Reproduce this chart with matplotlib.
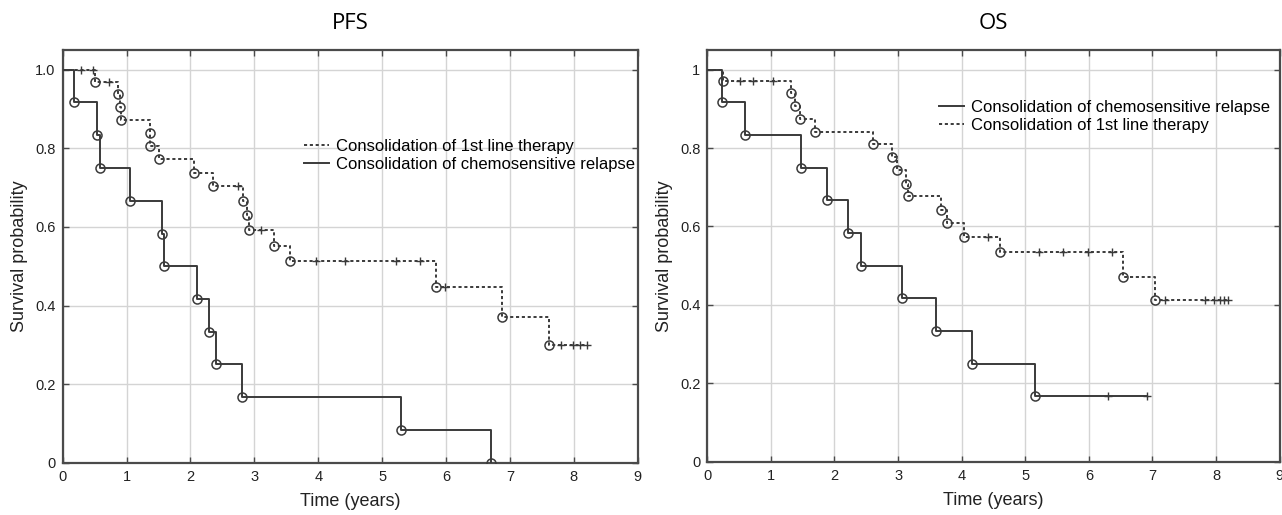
import numpy as np
import matplotlib
matplotlib.use("Agg")
import matplotlib.pyplot as plt
from matplotlib.lines import Line2D

plt.rcParams['font.family'] = ['Liberation Sans', 'DejaVu Sans']

# ---------------- data ----------------
# PFS, consolidation of 1st line therapy (dotted)
pfs_first_t = [0.50, 0.87, 0.89, 0.92, 1.36, 1.37, 1.51, 2.06, 2.36, 2.82, 2.89, 2.92, 3.30, 3.56, 5.84, 6.87, 7.61]
pfs_first_s = [0.968, 0.937, 0.905, 0.873, 0.839, 0.805, 0.772, 0.738, 0.703, 0.666, 0.630, 0.593, 0.552, 0.513, 0.448, 0.371, 0.299]
pfs_first_cens = [0.28, 0.48, 0.73, 2.75, 3.11, 3.96, 4.42, 5.22, 5.59, 5.98, 7.80, 7.98, 8.10, 8.21]
pfs_first_end = 8.21

# PFS, consolidation of chemosensitive relapse (solid)
pfs_relapse_t = [0.17, 0.54, 0.58, 1.05, 1.56, 1.59, 2.10, 2.29, 2.40, 2.80, 5.29, 6.71]
pfs_relapse_s = [0.917, 0.833, 0.750, 0.667, 0.583, 0.500, 0.417, 0.333, 0.250, 0.167, 0.083, 0.0]
pfs_relapse_cens = []
pfs_relapse_end = 6.71

# OS, consolidation of chemosensitive relapse (solid)
os_relapse_t = [0.23, 0.59, 1.47, 1.88, 2.22, 2.41, 3.06, 3.60, 4.17, 5.16]
os_relapse_s = [0.917, 0.833, 0.750, 0.667, 0.583, 0.500, 0.417, 0.333, 0.250, 0.167]
os_relapse_cens = [6.30, 6.91]
os_relapse_end = 6.91

# OS, consolidation of 1st line therapy (dotted)
os_first_t = [0.25, 1.31, 1.38, 1.45, 1.69, 2.60, 2.90, 2.99, 3.12, 3.15, 3.67, 3.77, 4.03, 4.61, 6.54, 7.04]
os_first_s = [0.970, 0.940, 0.906, 0.875, 0.842, 0.810, 0.777, 0.745, 0.709, 0.677, 0.642, 0.608, 0.572, 0.534, 0.472, 0.413]
os_first_cens = [0.51, 0.72, 1.04, 4.41, 5.21, 5.59, 5.99, 6.36, 7.20, 7.83, 7.96, 8.06, 8.13, 8.18]
os_first_end = 8.18

label_first = "Consolidation of 1st line therapy"
label_relapse = "Consolidation of chemosensitive relapse"
x_ticks = [0, 1, 2, 3, 4, 5, 6, 7, 8, 9]
pfs_yticklabels = ["0", "0.2", "0.4", "0.6", "0.8", "1.0"]
os_yticklabels = ["0", "0.2", "0.4", "0.6", "0.8", "1"]

# ---------------- style ----------------
LINE_C = "#3a3a3a"
GRID_C = "#d4d4d4"
SPINE_C = "#4a4a4a"
DOT_LS = (0, (1.6, 1.4))


def km(ax, t, s, cens, end, ls):
    tt = np.concatenate([[0.0], t, [end]])
    ss = np.concatenate([[1.0], s, [s[-1]]])
    ax.step(tt, ss, where='post', color=LINE_C, lw=1.4, ls=ls, zorder=3)
    ax.plot(t, s, ls='none', marker='o', ms=6.5, mfc='none', mec=LINE_C, mew=1.1, zorder=4)
    if len(cens):
        idx = np.searchsorted(tt, cens, side='right') - 1
        ax.plot(cens, ss[idx], ls='none', marker='+', ms=6, mec=LINE_C, mew=1.0, zorder=4)


def style_axes(ax, yticklabels):
    ax.set_xlim(0, 9)
    ax.set_ylim(0, 1.05)
    ax.set_xticks(x_ticks)
    ax.set_yticks([0, 0.2, 0.4, 0.6, 0.8, 1.0])
    ax.set_yticklabels(yticklabels)
    ax.grid(True, color=GRID_C, lw=1.0, zorder=0)
    ax.set_axisbelow(True)
    ax.tick_params(direction='in', top=True, right=True, length=4, width=1.0,
                   color=SPINE_C, labelsize=10.5, labelcolor="#222222", pad=5)
    for sp in ax.spines.values():
        sp.set_color(SPINE_C)
        sp.set_linewidth(1.6)
    ax.set_xlabel("Time (years)", fontsize=13, color="#222222", labelpad=7)
    ax.set_ylabel("Survival probability", fontsize=13, color="#222222", labelpad=5)


fig = plt.figure(figsize=(12.82, 5.15), dpi=100)
ax1 = fig.add_axes([0.0489, 0.1014, 0.4486, 0.8016])
ax2 = fig.add_axes([0.5517, 0.1035, 0.4465, 0.7994])

# PFS
km(ax1, pfs_first_t, pfs_first_s, pfs_first_cens, pfs_first_end, DOT_LS)
km(ax1, pfs_relapse_t, pfs_relapse_s, pfs_relapse_cens, pfs_relapse_end, '-')
style_axes(ax1, pfs_yticklabels)
ax1.set_title("PFS", fontsize=16, family=['Open Sans', 'DejaVu Sans'], pad=15)
h1 = [Line2D([], [], color=LINE_C, lw=1.4, ls=DOT_LS), Line2D([], [], color=LINE_C, lw=1.4, ls='-')]
ax1.legend(h1, [label_first, label_relapse], loc='center left', bbox_to_anchor=(0.42, 0.745),
           frameon=False, fontsize=12, handlelength=1.5, handletextpad=0.4,
           labelspacing=0.18, borderpad=0, borderaxespad=0)

# OS
km(ax2, os_relapse_t, os_relapse_s, os_relapse_cens, os_relapse_end, '-')
km(ax2, os_first_t, os_first_s, os_first_cens, os_first_end, DOT_LS)
style_axes(ax2, os_yticklabels)
ax2.set_title("OS", fontsize=16, family=['Open Sans', 'DejaVu Sans'], pad=15)
h2 = [Line2D([], [], color=LINE_C, lw=1.4, ls='-'), Line2D([], [], color=LINE_C, lw=1.4, ls=DOT_LS)]
ax2.legend(h2, [label_relapse, label_first], loc='center left', bbox_to_anchor=(0.405, 0.838),
           frameon=False, fontsize=12, handlelength=1.5, handletextpad=0.4,
           labelspacing=0.18, borderpad=0, borderaxespad=0)

fig.savefig("out.png", dpi=100)
